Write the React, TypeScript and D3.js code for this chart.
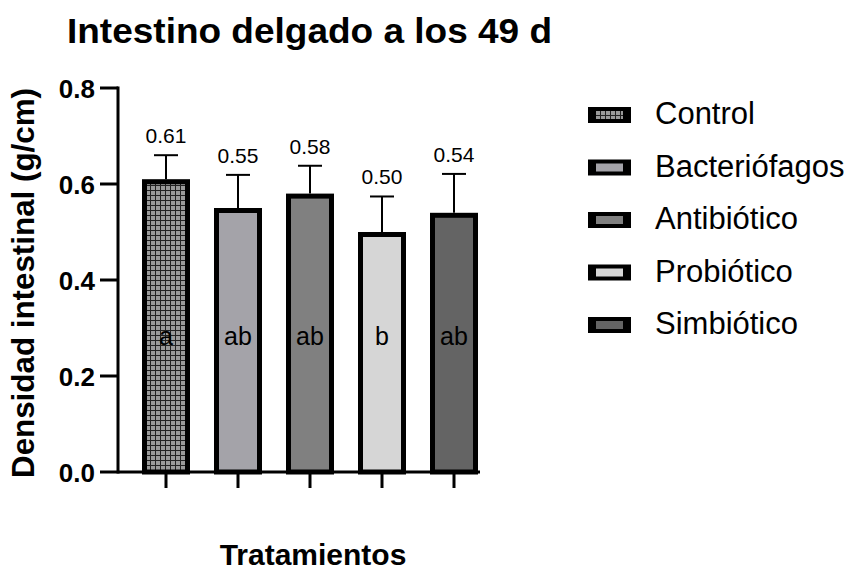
import React from "react";
import * as d3 from "d3";

const categories = ["Control", "Bacteriófagos", "Antibiótico", "Probiótico", "Simbiótico"];
const means = [0.61, 0.55, 0.58, 0.5, 0.54];
const sds = [0.05, 0.069, 0.058, 0.074, 0.081];
const valueLabels = ["0.61", "0.55", "0.58", "0.50", "0.54"];
const letters = ["a", "ab", "ab", "b", "ab"];
const fills = ["url(#gridPat)", "#a4a3a9", "#808080", "#d6d6d6", "#646464"];
const yTicks = [0, 0.2, 0.4, 0.6, 0.8];

const FONT = "'Liberation Sans', Arial, Helvetica, sans-serif";

export default function App() {
  const W = 854, H = 571;
  const y = d3.scaleLinear().domain([0, 0.8]).range([472, 88]);
  const x = d3.scaleBand<string>().domain(categories).range([130, 490]).paddingInner(0.4).paddingOuter(0.2);
  const barOuter = 48;
  const sw = 5;
  const axisX = 118;

  return (
    <svg width={W} height={H} style={{ position: "absolute", left: 0, top: 0, background: "#fff" }} fontFamily={FONT}>
      <defs>
        <pattern id="gridPat" width={5} height={5} patternUnits="userSpaceOnUse">
          <rect width={5} height={5} fill="#9a9a9a" />
          <path d="M0,0.5H5M0.5,0V5" stroke="#222" strokeWidth={1} />
        </pattern>
      </defs>
      <rect width={W} height={H} fill="#fff" />
      {/* Title */}
      <text x={67} y={43} fontSize={35} fontWeight="bold" textLength={485} lengthAdjust="spacingAndGlyphs">
        Intestino delgado a los 49 d
      </text>

      {/* bars */}
      {categories.map((c, i) => {
        const cx = x(c)! + x.bandwidth() / 2;
        const top = y(means[i]);
        const capY = y(means[i] + sds[i]);
        return (
          <g key={c}>
            <line x1={cx} x2={cx} y1={top} y2={capY} stroke="#000" strokeWidth={2} />
            <line x1={cx - 12} x2={cx + 12} y1={capY} y2={capY} stroke="#000" strokeWidth={2} />
            <rect
              x={cx - barOuter / 2 + sw / 2}
              y={top + sw / 2}
              width={barOuter - sw}
              height={y(0) - top - sw / 2}
              fill={fills[i]}
              stroke="#000"
              strokeWidth={sw}
            />
            <text x={cx} y={capY - 12} fontSize={21} textAnchor="middle">{valueLabels[i]}</text>
            <text x={cx} y={345} fontSize={25} textAnchor="middle">{letters[i]}</text>
          </g>
        );
      })}

      {/* y axis */}
      <line x1={axisX} x2={axisX} y1={y(0.8) - 1.5} y2={y(0) + 1.5} stroke="#000" strokeWidth={3} />
      {yTicks.map((t) => (
        <g key={t}>
          <line x1={100} x2={axisX} y1={y(t)} y2={y(t)} stroke="#000" strokeWidth={3} />
          <text x={95} y={y(t) + 9.5} fontSize={26} fontWeight="bold" textAnchor="end">{t.toFixed(1)}</text>
        </g>
      ))}
      {/* x axis */}
      <line x1={axisX} x2={480} y1={y(0)} y2={y(0)} stroke="#000" strokeWidth={3} />
      {categories.map((c) => {
        const cx = x(c)! + x.bandwidth() / 2;
        return <line key={c} x1={cx} x2={cx} y1={y(0)} y2={y(0) + 16} stroke="#000" strokeWidth={3} />;
      })}

      {/* axis titles */}
      <text transform={`translate(34,283) rotate(-90)`} fontSize={31} fontWeight="bold" textAnchor="middle" textLength={390} lengthAdjust="spacingAndGlyphs">
        Densidad intestinal (g/cm)
      </text>
      <text x={313} y={565} fontSize={30} fontWeight="bold" textAnchor="middle">Tratamientos</text>

      {/* legend */}
      {categories.map((c, i) => {
        const cy = 115 + i * 52.5;
        return (
          <g key={c}>
            <rect x={588} y={cy - 8} width={43} height={16} fill="#000" />
            <rect x={596} y={cy - 4} width={27} height={8} fill={fills[i]} />
            <text x={655} y={cy + 9} fontSize={31}>{c}</text>
          </g>
        );
      })}
    </svg>
  );
}
